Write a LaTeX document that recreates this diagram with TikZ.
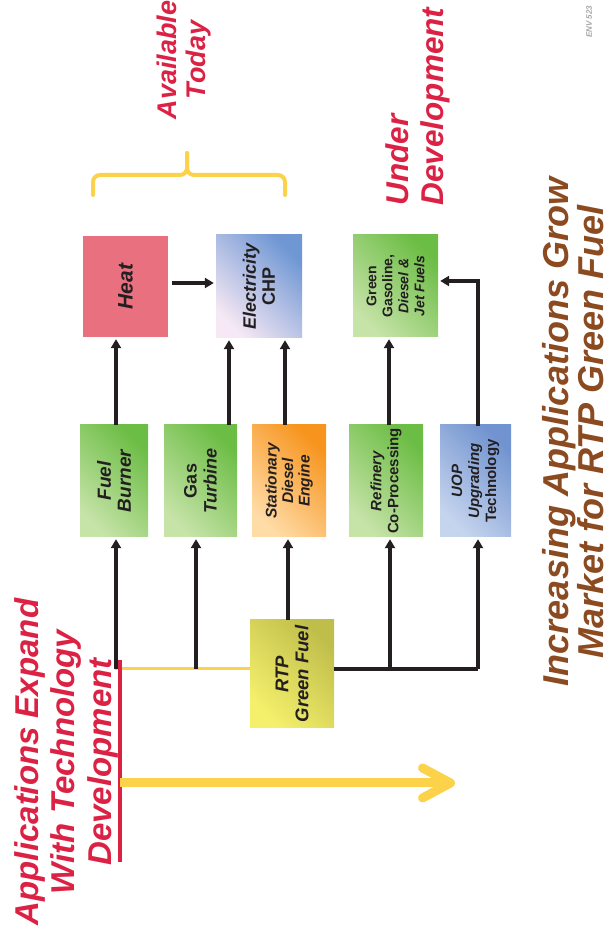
\documentclass[tikz,border=0pt]{standalone}
\usepackage{fontspec}
\setmainfont{Liberation Sans}
\usepackage{tikz}
\usetikzlibrary{arrows.meta,calc,positioning}

\definecolor{ink}{HTML}{231F20}
\definecolor{alert}{HTML}{DC2244}
\definecolor{rust}{HTML}{8B4A1F}
\definecolor{sun}{HTML}{FDD24B}
\definecolor{heatred}{HTML}{E8707F}
\definecolor{skylo}{HTML}{F6E8F4}
\definecolor{skymid}{HTML}{A5C9EC}
\definecolor{skyhi}{HTML}{6F97D4}
\definecolor{leaflo}{HTML}{C6E3A8}
\definecolor{leafhi}{HTML}{6CBD45}
\definecolor{orangelo}{HTML}{FFDBA6}
\definecolor{orangehi}{HTML}{F7941D}
\definecolor{steello}{HTML}{C6D5EE}
\definecolor{steelhi}{HTML}{7193CF}
\definecolor{lemonlo}{HTML}{F5F06C}
\definecolor{lemonhi}{HTML}{C0BE4B}

\newcommand{\fs}[2]{\fontsize{#1}{#2}\selectfont}

\tikzset{
  box/.style={rectangle, rotate=90, align=center, inner sep=1pt, text=ink,
              font=\bfseries\itshape},
  grad/.style 2 args={bottom color=#1, top color=#2, shading angle=-45},
  flow/.style={draw=ink, line width=3.1pt, shorten >=2pt,
               -{Triangle[length=9pt,width=10pt]}},
  feed/.style={draw=sun, line width=3pt},
  rail/.style={draw=ink, line width=3.1pt},
  push/.style={draw=sun, line width=9pt,
               -{Straight Barb[length=28pt,width=30pt,round]}},
  brace/.style={draw=sun, line width=4pt, rounded corners=7pt, line cap=round},
  banner/.style={rotate=90, align=center, font=\bfseries\itshape},
}

\begin{document}
\begin{tikzpicture}[x=1pt,y=1pt]
  \useasboundingbox (0,0) rectangle (614,932);

  % End uses
  \node[box, fill=heatred, minimum width=101pt, minimum height=85pt,
        font=\fs{21}{22}\bfseries\itshape] (heat) at (125.5,645.5) {Heat};
  \node[box, top color=skyhi, middle color=skymid, bottom color=skylo, shading angle=-45,
        minimum width=103pt, minimum height=86pt,
        font=\fs{18}{19}\bfseries\itshape] (elec) at (259,645.5)
        {Electricity\\\upshape CHP};
  \node[box, grad={leaflo}{leafhi}, minimum width=102pt, minimum height=85pt,
        font=\fs{14}{16}\bfseries\itshape] (fuels) at (395.5,646)
        {\upshape Green\\\upshape Gasoline,\\Diesel \&\\Jet Fuels};

  % Conversion routes
  \node[box, grad={leaflo}{leafhi}, minimum width=112pt, minimum height=68pt,
        font=\fs{19}{20}\bfseries\itshape] (burner) at (114,451) {Fuel\\Burner};
  \node[box, grad={leaflo}{leafhi}, minimum width=112pt, minimum height=73pt,
        font=\fs{18}{20}\bfseries\itshape] (turbine) at (200.5,451)
        {\upshape Gas\\Turbine};
  \node[box, grad={orangelo}{orangehi}, minimum width=112pt, minimum height=74pt,
        font=\fs{15.5}{16.5}\bfseries\itshape] (diesel) at (289,451)
        {Stationary\\Diesel\\Engine};
  \node[box, grad={leaflo}{leafhi}, minimum width=112pt, minimum height=74pt,
        font=\fs{15}{17}\bfseries\itshape] (refinery) at (386,451)
        {Refinery\\\upshape Co-Processing};
  \node[box, grad={steello}{steelhi}, minimum width=112pt, minimum height=71pt,
        font=\fs{15}{17}\bfseries\itshape] (uop) at (475.5,451)
        {UOP\\Upgrading\\\upshape Technology};

  % Source
  \node[box, grad={lemonlo}{lemonhi}, minimum width=108pt, minimum height=84pt,
        font=\fs{18.5}{20}\bfseries\itshape] (rtp) at (292,258) {RTP\\Green Fuel};

  % Feed rail
  \coordinate (bus) at (0,263);
  \draw[feed] (rtp.north |- bus) -- ([xshift=1pt]burner.west |- bus);
  \draw[rail] (rtp.south |- bus) -- ([xshift=2.5pt]uop.west |- bus);
  \foreach \n/\dx in {burner/2, turbine/-4.5, refinery/4, uop/2.5}
    \draw[flow] ([xshift=\dx pt]\n.west |- bus) -- ([xshift=\dx pt]\n.west);
  \draw[flow] ([xshift=-4pt]rtp.east) -- ([xshift=-4pt]rtp.east |- diesel.west);

  % Routes to end uses
  \draw[flow] ([xshift=2pt]burner.east) -- ([xshift=2pt]burner.east |- heat.west);
  \draw[flow] ([xshift=28.5pt]turbine.east) -- ([xshift=28.5pt]turbine.east |- elec.west);
  \draw[flow] ([xshift=-4pt]diesel.east) -- ([xshift=-4pt]diesel.east |- elec.west);
  \draw[flow] ([xshift=3pt]refinery.east) -- ([xshift=3pt]refinery.east |- fuels.west);
  \draw[flow, shorten <=-1.5pt] ([xshift=2.5pt]uop.east) |- ([yshift=5pt]fuels.south);
  \draw[flow, shorten <=4pt] ([yshift=3.5pt]heat.south) -- ([yshift=3.5pt]heat.south -| elec.north);

  % Brace over the proven uses
  \draw[brace] (93,737) |- (187,757) -- (187,779);
  \draw[brace] (285,737) |- (187,757) -- (187,779);

  % Captions
  \node[banner, text=alert, font=\fs{27}{29}\bfseries\itshape] (today) at (184,872)
       {Available\\Today};
  \node[banner, text=alert, align=left, anchor=west, font=\fs{31.5}{35}\bfseries\itshape]
       (underdev) at (418,723) {Under\\Development};
  \node[banner, text=alert, font=\fs{33}{36.5}\bfseries\itshape] (expand) at (66,170)
       {Applications Expand\\With Technology\\Development};
  \node[banner, text=rust, font=\fs{36}{35}\bfseries\itshape] (title) at (573,500)
       {Increasing Applications Grow\\Market for RTP Green Fuel};
  \node[banner, text=gray!70, font=\fs{8}{9}\bfseries\itshape] (env) at (589,910) {ENV 523};

  % Underline and growth arrow
  \coordinate (ultop) at (120,272);
  \coordinate (ulbot) at (120,70);
  \coordinate (goal) at (455,149);
  \draw[alert, line width=3.5pt] (ultop) -- (ulbot);
  \draw[push] (ultop |- goal) -- (goal);
\end{tikzpicture}
\end{document}
